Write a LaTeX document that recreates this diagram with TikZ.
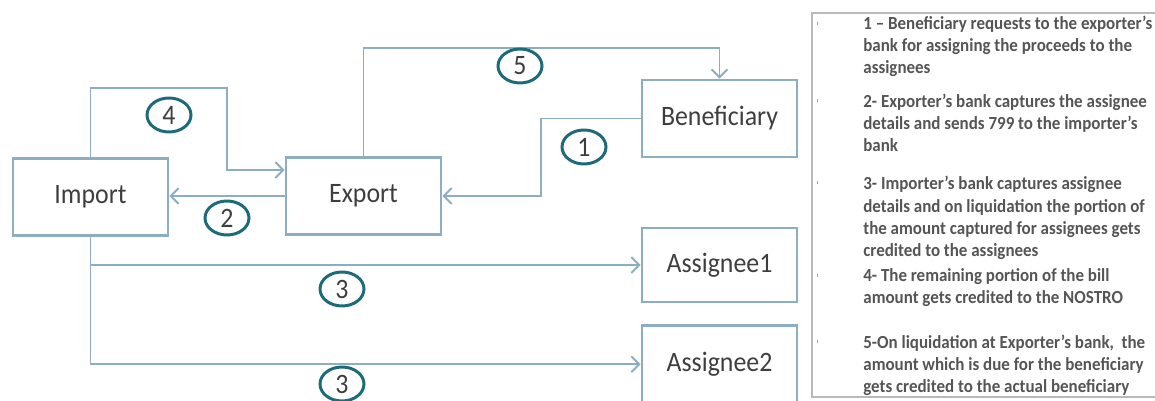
\documentclass[tikz,border=0pt]{standalone}
\usepackage{fontspec}
\setmainfont{Carlito}[FakeStretch=0.92]
\usepackage{xcolor}
\usetikzlibrary{arrows.meta,positioning,shapes.geometric}
\definecolor{boxline}{HTML}{8DAEC2}
\definecolor{ringline}{HTML}{1D6A7A}
\definecolor{inkgrey}{HTML}{3E3E3E}
\definecolor{notegrey}{HTML}{555555}
\tikzset{
  block/.style={draw=boxline, line width=1.6pt, minimum width=3.1cm, minimum height=1.54cm, inner sep=0pt, text=inkgrey, font=\fontsize{16}{18}\selectfont},
  line/.style={draw=boxline, line width=1.1pt, -{Straight Barb[length=4.5pt,width=9pt]}},
  badge/.style={ellipse, draw=ringline, line width=1.7pt, minimum width=0.88cm, minimum height=0.68cm, inner sep=0pt, text=inkgrey, font=\fontsize{16}{18}\selectfont},
  panel/.style={draw=gray!55, line width=0.6pt},
  note/.style={anchor=base west, align=left, inner sep=0pt, text=notegrey, font=\fontsize{10.5}{12.76}\selectfont\bfseries}
}

\begin{document}
\begin{tikzpicture}[x=0.02cm, y=-0.02cm]
  \useasboundingbox (0,0) rectangle (1155,401);

  \node[block] (imp) at (90.5,197) {Import};
  \node[block] (exp) at (363.5,196) {Export};
  \node[block] (ben) at (719.5,118.5) {Beneficiary};
  \node[block, minimum height=1.48cm] (as1) at (719.5,265) {Assignee1};
  \node[block, below=0.42cm of as1] (as2) {Assignee2};

  \coordinate (k1) at (541,118.5);
  \coordinate (k4) at (227,88);
  \coordinate (k4b) at (227,170);
  \coordinate (k5) at (363.5,48);

  \draw[line] (ben.west) -- (k1) |- (exp.east);
  \draw[line] (exp.west) -- (exp.west -| imp.east);
  \draw[line] (imp.south) |- (as2.west);
  \draw[line] (imp.south |- as1.west) -- (as1.west);
  \draw[line] (imp.north) |- (k4) -- (k4b) -- (exp.west |- k4b);
  \draw[line] (exp.north) -- (k5) -| (ben.north);

  \node[badge] (b1) at (584,147) {1};
  \node[badge] (b2) at (227,218) {2};
  \node[badge] (b3a) at (342,289) {3};
  \node[badge] (b3b) at (342,384) {3};
  \node[badge] (b4) at (169,115) {4};
  \node[badge] (b5) at (520,66) {5};

  \coordinate (pnw) at (812,13);
  \coordinate (pse) at (1155,397);
  \draw[panel] (pnw -| pse) -- (pnw) |- (pse);
  \foreach \y in {22,99,181,274,340}
    \fill[notegrey!55] (816.5,\y) rectangle (818,\y+3);

  \node[note] (n1) at (863,74) {1 – Beneficiary requests to the exporter’s\\bank for assigning the proceeds to the\\assignees};
  \node[note] (n2) at (863,152) {2- Exporter’s bank captures the assignee\\details and sends 799 to the importer’s\\bank};
  \node[note] (n3) at (863,257) {3- Importer’s bank captures assignee\\details and on liquidation the portion of\\the amount captured for assignees gets\\credited to the assignees};
  \node[note] (n4) at (863,304) {4- The remaining portion of the bill\\amount gets credited to the NOSTRO};
  \node[note] (n5) at (863,393) {5-On liquidation at Exporter’s bank,~ the\\amount which is due for the beneficiary\\gets credited to the actual beneficiary};
\end{tikzpicture}
\end{document}
